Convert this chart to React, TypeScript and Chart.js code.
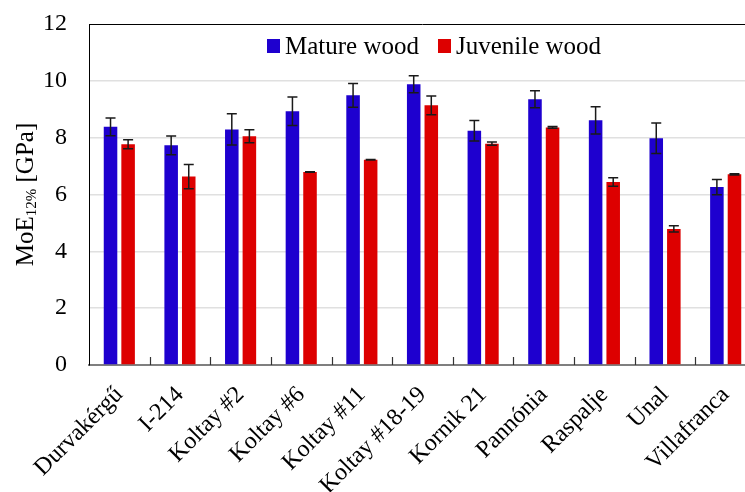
import React, { useEffect, useRef } from "react";
import { Chart, registerables } from "chart.js";

Chart.register(...registerables);

const categories = [
  "Durvakérgű",
  "I-214",
  "Koltay #2",
  "Koltay #6",
  "Koltay #11",
  "Koltay #18-19",
  "Kornik 21",
  "Pannónia",
  "Raspalje",
  "Unal",
  "Villafranca",
];
const matureValues = [8.38, 7.73, 8.29, 8.93, 9.49, 9.88, 8.24, 9.35, 8.61, 7.98, 6.26];
const matureErrors = [0.31, 0.33, 0.55, 0.5, 0.42, 0.3, 0.36, 0.3, 0.48, 0.54, 0.27];
const juvenileValues = [7.77, 6.63, 8.05, 6.79, 7.22, 9.14, 7.79, 8.36, 6.44, 4.79, 6.71];
const juvenileErrors = [0.16, 0.43, 0.23, 0.01, 0.01, 0.33, 0.06, 0.03, 0.15, 0.11, 0.02];
const seriesLabels = ["Mature wood", "Juvenile wood"];
const yTicks = [0, 2, 4, 6, 8, 10, 12];
const yTitleMain = "MoE";
const yTitleSub = "12%";
const yTitleTail = " [GPa]";

const FONT = "'Liberation Serif', 'Times New Roman', serif";
const BLUE = "#1e00cf";
const RED = "#dd0000";

const errorBarPlugin = {
  id: "errorBars",
  afterDatasetsDraw(chart: any) {
    const ctx = chart.ctx;
    const yScale = chart.scales.y;
    const errs = [matureErrors, juvenileErrors];
    ctx.save();
    ctx.strokeStyle = "#1a1a1a";
    ctx.lineWidth = 1.5;
    chart.data.datasets.forEach((ds: any, di: number) => {
      const meta = chart.getDatasetMeta(di);
      meta.data.forEach((el: any, i: number) => {
        const v = ds.data[i];
        const e = errs[di][i];
        const x = el.x;
        const yt = yScale.getPixelForValue(v + e);
        const yb = yScale.getPixelForValue(v - e);
        ctx.beginPath();
        ctx.moveTo(x, yt);
        ctx.lineTo(x, yb);
        ctx.moveTo(x - 5, yt);
        ctx.lineTo(x + 5, yt);
        ctx.moveTo(x - 5, yb);
        ctx.lineTo(x + 5, yb);
        ctx.stroke();
      });
    });
    ctx.restore();
  },
};

const decorPlugin = {
  id: "decor",
  afterDraw(chart: any) {
    const ctx = chart.ctx;
    const area = chart.chartArea;
    const xScale = chart.scales.x;
    ctx.save();
    // top border
    ctx.strokeStyle = "#000";
    ctx.lineWidth = 1;
    ctx.beginPath();
    ctx.moveTo(area.left, Math.round(area.top) + 0.5);
    ctx.lineTo(area.right, Math.round(area.top) + 0.5);
    ctx.stroke();
    // inner category boundary ticks
    ctx.strokeStyle = "#333";
    ctx.lineWidth = 1.2;
    for (let i = 1; i < categories.length; i++) {
      const x = Math.round((xScale.getPixelForValue(i - 1) + xScale.getPixelForValue(i)) / 2) + 0.5;
      ctx.beginPath();
      ctx.moveTo(x, area.bottom);
      ctx.lineTo(x, area.bottom - 8);
      ctx.stroke();
    }
    // legend
    const colors = [BLUE, RED];
    ctx.font = `25px ${FONT}`;
    ctx.textBaseline = "alphabetic";
    ctx.textAlign = "left";
    let x = area.left + 178;
    const yc = 46;
    seriesLabels.forEach((lab, i) => {
      ctx.fillStyle = colors[i];
      ctx.fillRect(x, yc - 7, 13, 14);
      ctx.fillStyle = "#000";
      ctx.fillText(lab, x + 18, yc + 8);
      x += 18 + ctx.measureText(lab).width + 19;
    });
    // y title with subscript
    const cy = (area.top + area.bottom) / 2;
    ctx.translate(33, cy);
    ctx.rotate(-Math.PI / 2);
    ctx.font = `25px ${FONT}`;
    const w1 = ctx.measureText(yTitleMain).width;
    const w3 = ctx.measureText(yTitleTail).width;
    ctx.font = `15px ${FONT}`;
    const w2 = ctx.measureText(yTitleSub).width;
    let tx = -(w1 + w2 + w3) / 2;
    ctx.fillStyle = "#000";
    ctx.font = `25px ${FONT}`;
    ctx.fillText(yTitleMain, tx, 0);
    tx += w1;
    ctx.font = `15px ${FONT}`;
    ctx.fillText(yTitleSub, tx, 3);
    tx += w2;
    ctx.font = `25px ${FONT}`;
    ctx.fillText(yTitleTail, tx, 0);
    ctx.restore();
  },
};

export default function App() {
  const ref = useRef<HTMLCanvasElement | null>(null);
  useEffect(() => {
    const canvas = ref.current!;
    canvas.width = 756;
    canvas.height = 492;
    const chart = new Chart(canvas, {
      type: "bar",
      data: {
        labels: categories,
        datasets: [
          {
            label: seriesLabels[0],
            data: matureValues,
            backgroundColor: BLUE,
            categoryPercentage: 0.58,
            barPercentage: 0.77,
          },
          {
            label: seriesLabels[1],
            data: juvenileValues,
            backgroundColor: RED,
            categoryPercentage: 0.58,
            barPercentage: 0.77,
          },
        ],
      },
      options: {
        responsive: false,
        animation: false,
        layout: { padding: { top: 24, left: 0, right: 0, bottom: 0 } },
        plugins: {
          legend: { display: false },
          tooltip: { enabled: false },
        },
        scales: {
          x: {
            grid: { display: false },
            border: { display: true, color: "#7f7f7f", width: 2 },
            ticks: {
              autoSkip: false,
              maxRotation: 45,
              minRotation: 45,
              color: "#000",
              padding: 8,
              font: { family: FONT, size: 24 },
            },
            afterFit: (scale: any) => {
              scale.height = 127;
            },
          },
          y: {
            min: 0,
            max: 12,
            afterBuildTicks: (scale: any) => {
              scale.ticks = yTicks.map((v) => ({ value: v }));
            },
            grid: {
              drawTicks: false,
              lineWidth: 1.5,
              color: (c: any) =>
                c.tick && (c.tick.value === 0 || c.tick.value === 12) ? "rgba(0,0,0,0)" : "#e0e0e0",
            },
            border: { display: true, color: "#000", width: 1 },
            ticks: {
              color: "#000",
              padding: 22,
              font: { family: FONT, size: 24 },
            },
            afterFit: (scale: any) => {
              scale.width = 89;
              scale.paddingTop = 0;
              scale.paddingBottom = 0;
            },
          },
        },
      },
      plugins: [errorBarPlugin, decorPlugin],
    });
    return () => chart.destroy();
  }, []);
  return (
    <div
      style={{
        position: "fixed",
        left: 0,
        top: 0,
        width: 745,
        height: 492,
        overflow: "hidden",
        background: "#fff",
      }}
    >
      <canvas ref={ref} style={{ display: "block", width: 756, height: 492 }} />
    </div>
  );
}
